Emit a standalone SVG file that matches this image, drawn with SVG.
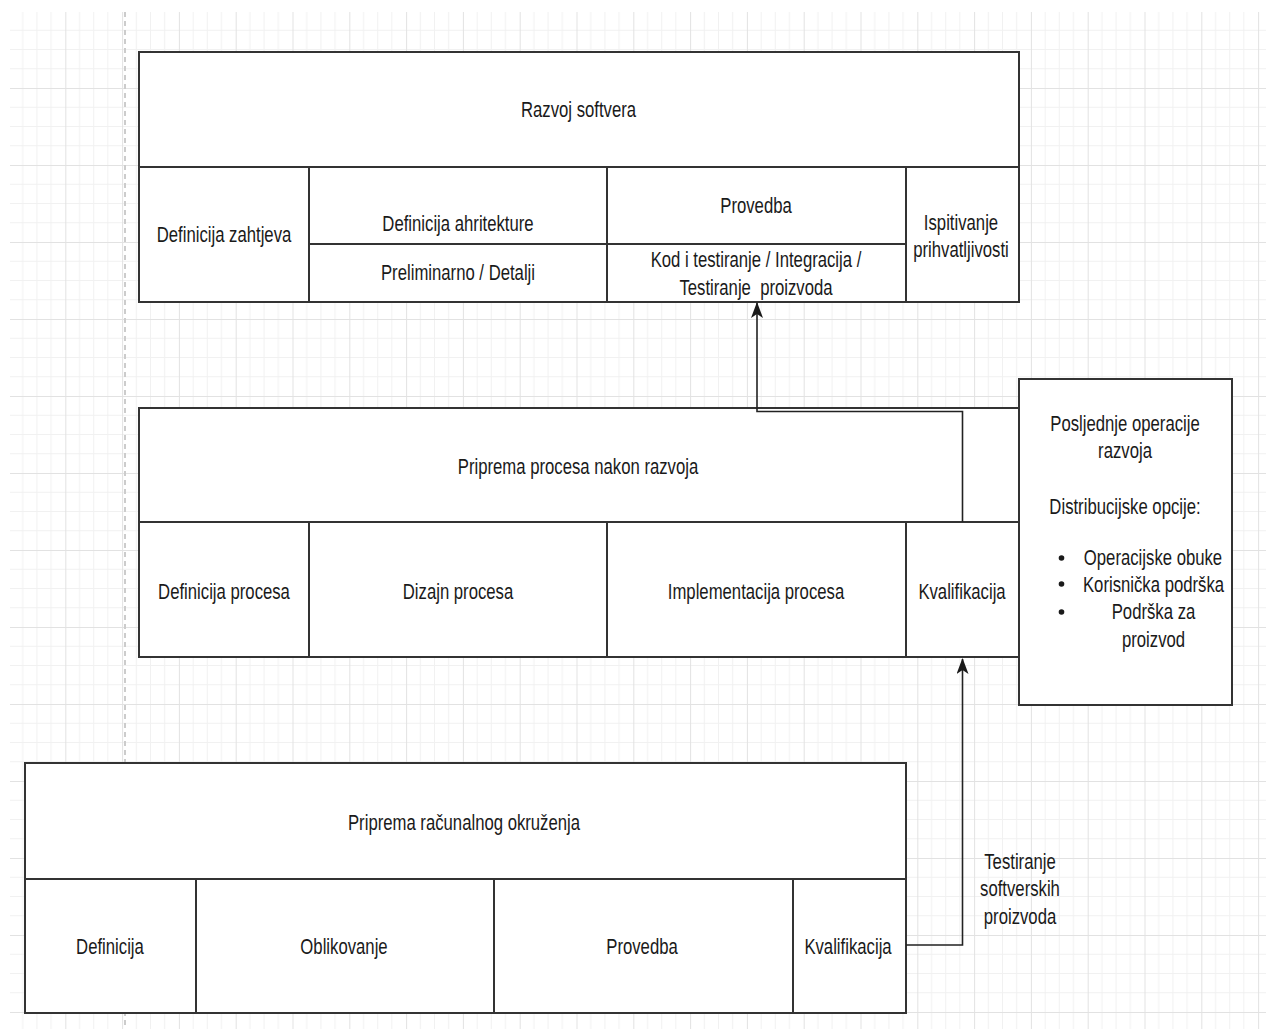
<svg xmlns="http://www.w3.org/2000/svg" width="1266" height="1029" viewBox="0 0 1266 1029">
<defs>
<pattern id="grid" patternUnits="userSpaceOnUse" x="8.5" y="11" width="56.8" height="77">
<path d="M14.2,0V77M28.4,0V77M42.6,0V77M0,19.25H56.8M0,38.5H56.8M0,57.75H56.8" stroke="#f1f1f1" stroke-width="1" fill="none"/>
<path d="M0.5,0V77M0,0.5H56.8" stroke="#e2e2e2" stroke-width="1" fill="none"/>
</pattern>
<marker id="arr" markerUnits="userSpaceOnUse" viewBox="0 0 16 12" markerWidth="16" markerHeight="12" refX="15" refY="6" orient="auto">
<path d="M16,6 L0,0 L4,6 L0,12 Z" fill="#1a1a1a"/>
</marker>
<style>
.box{fill:#ffffff;stroke:#333333;stroke-width:2}
.ln{fill:none;stroke:#333333;stroke-width:2}
.con{fill:none;stroke:#222222;stroke-width:1.6}
text{font-family:"Liberation Sans",Arial,sans-serif;font-size:22px;fill:#1a1a1a;text-anchor:middle}
</style>
</defs>
<rect x="0" y="0" width="1266" height="1029" fill="#ffffff"/>
<rect x="10" y="12" width="1256" height="1017" fill="url(#grid)"/>
<line x1="125" y1="12" x2="125" y2="1029" stroke="#cccccc" stroke-width="2" stroke-dasharray="5 4"/>

<g id="razvoj-softvera">
<rect class="box" x="139" y="52" width="880" height="250"/>
<path class="ln" d="M139,167H1019M309,167V302M607,167V302M906,167V302M309,244H906"/>
<text transform="translate(578.5,117) scale(0.76,1)">Razvoj softvera</text>
<text transform="translate(224,242) scale(0.76,1)">Definicija zahtjeva</text>
<text transform="translate(458,231) scale(0.76,1)">Definicija ahritekture</text>
<text transform="translate(458,280) scale(0.76,1)">Preliminarno / Detalji</text>
<text transform="translate(756,213) scale(0.76,1)">Provedba</text>
<text transform="translate(756,267) scale(0.76,1)">Kod i testiranje / Integracija /</text>
<text transform="translate(756,295) scale(0.76,1)" style="white-space:pre">Testiranje  proizvoda</text>
<text transform="translate(961,230) scale(0.76,1)">Ispitivanje</text>
<text transform="translate(961,257) scale(0.76,1)">prihvatljivosti</text>
</g>

<g id="priprema-procesa">
<rect class="box" x="139" y="408" width="880" height="249"/>
<path class="ln" d="M139,522H1019M309,522V657M607,522V657M906,522V657"/>
<text transform="translate(578,474) scale(0.76,1)">Priprema procesa nakon razvoja</text>
<text transform="translate(224,599) scale(0.76,1)">Definicija procesa</text>
<text transform="translate(458,599) scale(0.76,1)">Dizajn procesa</text>
<text transform="translate(756,599) scale(0.76,1)">Implementacija procesa</text>
<text transform="translate(962,599) scale(0.76,1)">Kvalifikacija</text>
</g>

<g id="posljednje-operacije">
<rect class="box" x="1019" y="379" width="213" height="326"/>
<text transform="translate(1125,431) scale(0.76,1)">Posljednje operacije</text>
<text transform="translate(1125,458) scale(0.76,1)">razvoja</text>
<text transform="translate(1125,514) scale(0.76,1)">Distribucijske opcije:</text>
<circle cx="1061.5" cy="558" r="2.8" fill="#1a1a1a"/>
<circle cx="1061.5" cy="584" r="2.8" fill="#1a1a1a"/>
<circle cx="1061.5" cy="612" r="2.8" fill="#1a1a1a"/>
<text transform="translate(1153,565) scale(0.76,1)">Operacijske obuke</text>
<text transform="translate(1153.5,592) scale(0.76,1)">Korisnička podrška</text>
<text transform="translate(1153.5,619) scale(0.76,1)">Podrška za</text>
<text transform="translate(1153.5,647) scale(0.76,1)">proizvod</text>
</g>

<g id="priprema-racunalnog">
<rect class="box" x="25" y="763" width="881" height="250"/>
<path class="ln" d="M25,879H906M196,879V1013M494,879V1013M793,879V1013"/>
<text transform="translate(464,830) scale(0.76,1)">Priprema računalnog okruženja</text>
<text transform="translate(110,954) scale(0.76,1)">Definicija</text>
<text transform="translate(344,954) scale(0.76,1)">Oblikovanje</text>
<text transform="translate(642,954) scale(0.76,1)">Provedba</text>
<text transform="translate(848,954) scale(0.76,1)">Kvalifikacija</text>
</g>

<g id="connectors">
<path class="con" d="M906,945H962.5V659" marker-end="url(#arr)"/>
<path class="con" d="M962.5,522V411.5H757V303" marker-end="url(#arr)"/>
<g id="label-testiranje">
<text transform="translate(1020,869) scale(0.76,1)">Testiranje</text>
<text transform="translate(1020,896) scale(0.76,1)">softverskih</text>
<text transform="translate(1020,924) scale(0.76,1)">proizvoda</text>
</g>
</g>
</svg>
